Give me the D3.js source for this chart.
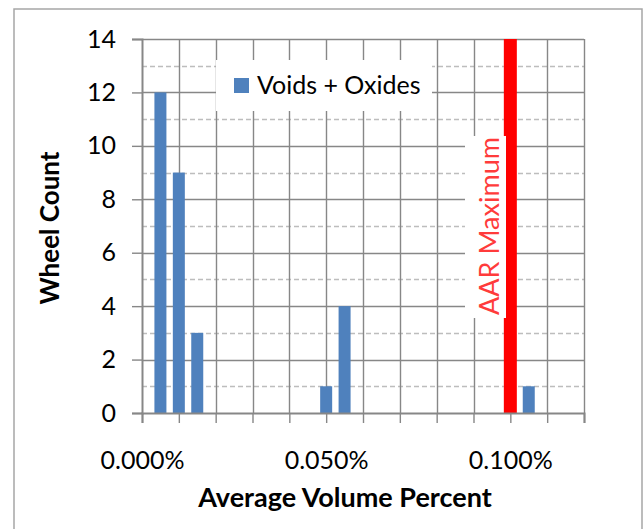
<!DOCTYPE html>
<html>
<head>
<meta charset="utf-8">
<title>Wheel Count</title>
<script src="https://d3js.org/d3.v7.min.js"></script>
<style>
  body { margin:0; background:#fff; }
  text { font-family: Lato, "Open Sans", sans-serif; fill:#000; }
</style>
</head>
<body>
<div id="chart"></div>
<script>
// data (volume percent, wheel count)
var volumes = [0.005, 0.010, 0.015, 0.050, 0.055, 0.105];
var counts  = [12, 9, 3, 1, 4, 1];
var aarMax  = 0.100;
var xTickLabels = [0, 0.05, 0.10];
var yTickLabels = [0, 2, 4, 6, 8, 10, 12, 14];
var seriesName = "Voids + Oxides";

var W = 643, H = 529;
var svg = d3.select("#chart").append("svg").attr("width", W).attr("height", H);

// outer chart border
svg.append("rect").attr("x", 14).attr("y", 9).attr("width", 628).attr("height", 530)
  .attr("fill", "#fff").attr("stroke", "#a6a6a6").attr("stroke-width", 1.5);

var x = d3.scaleLinear().domain([0, 0.12]).range([142, 584]);
var y = d3.scaleLinear().domain([0, 14]).range([413, 39]);
var barW = 12;
var snap = function(v){ return Math.round(v) + 0.5; };

// minor dashed horizontal grid
svg.append("g").selectAll("line").data(d3.range(1, 14, 2)).enter().append("line")
  .attr("x1", x(0)).attr("x2", x(0.12))
  .attr("y1", function(d){ return snap(y(d)); }).attr("y2", function(d){ return snap(y(d)); })
  .attr("stroke", "#bdbdbd").attr("stroke-width", 1.4).attr("stroke-dasharray", "5,3");

// major solid horizontal grid
svg.append("g").selectAll("line").data(d3.range(2, 15, 2)).enter().append("line")
  .attr("x1", x(0)).attr("x2", x(0.12))
  .attr("y1", function(d){ return snap(y(d)); }).attr("y2", function(d){ return snap(y(d)); })
  .attr("stroke", "#878787").attr("stroke-width", 1.4);

// vertical grid every 0.01%
svg.append("g").selectAll("line").data(d3.range(1, 13).map(function(i){ return i/100; })).enter().append("line")
  .attr("x1", function(d){ return snap(x(d)); }).attr("x2", function(d){ return snap(x(d)); })
  .attr("y1", y(0)).attr("y2", y(14))
  .attr("stroke", "#878787").attr("stroke-width", 1.4);

// bars
svg.append("g").selectAll("rect").data(volumes).enter().append("rect")
  .attr("x", function(d){ return x(d) - barW/2; })
  .attr("width", barW)
  .attr("y", function(d, i){ return y(counts[i]); })
  .attr("height", function(d, i){ return y(0) - y(counts[i]); })
  .attr("fill", "#4f81bd");

// AAR maximum line
svg.append("rect").attr("x", x(aarMax) - 6.5).attr("width", 13)
  .attr("y", y(14)).attr("height", y(0) - y(14)).attr("fill", "#ff0000");

// AAR label
svg.append("rect").attr("x", 465).attr("y", 136).attr("width", 41).attr("height", 182).attr("fill", "#fff");
svg.append("text").attr("transform", "translate(499,226) rotate(-90)")
  .attr("text-anchor", "middle").style("font-size", "27px").style("fill", "#ff3b3b")
  .text("AAR Maximum");

// axes
var yAxis = d3.axisLeft(y).tickValues(yTickLabels).tickSize(10).tickPadding(16).tickFormat(d3.format("d"));
var gy = svg.append("g").attr("transform", "translate(" + x(0) + ",0)").call(yAxis);
var xAxis = d3.axisBottom(x).tickValues(d3.range(0, 13).map(function(i){ return i/100; }))
  .tickSize(10).tickPadding(28)
  .tickFormat(function(d){ return xTickLabels.some(function(v){ return Math.abs(v-d) < 1e-9; }) ? d3.format(".3f")(d) + "%" : ""; });
var gx = svg.append("g").attr("transform", "translate(0," + y(0) + ")").call(xAxis);

[gx, gy].forEach(function(g){
  g.select(".domain").attr("stroke", "#878787").attr("stroke-width", 2);
  g.selectAll(".tick line").attr("stroke", "#878787").attr("stroke-width", 1.4);
  g.selectAll("text").style("font-family", "Lato, sans-serif").style("font-size", "25px").attr("fill", "#000");
});

// legend
svg.append("rect").attr("x", 216).attr("y", 60).attr("width", 216).attr("height", 51).attr("fill", "#fff");
svg.append("rect").attr("x", 234).attr("y", 78).attr("width", 15).attr("height", 15).attr("fill", "#4f81bd");
svg.append("text").attr("x", 257).attr("y", 94).style("font-size", "25px").text(seriesName);

// axis titles
svg.append("text").attr("x", 345).attr("y", 507).attr("text-anchor", "middle")
  .style("font-size", "27px").style("font-weight", "bold").text("Average Volume Percent");
svg.append("text").attr("transform", "translate(59,228) rotate(-90)").attr("text-anchor", "middle")
  .style("font-size", "26px").style("font-weight", "bold").text("Wheel Count");
</script>
</body>
</html>
